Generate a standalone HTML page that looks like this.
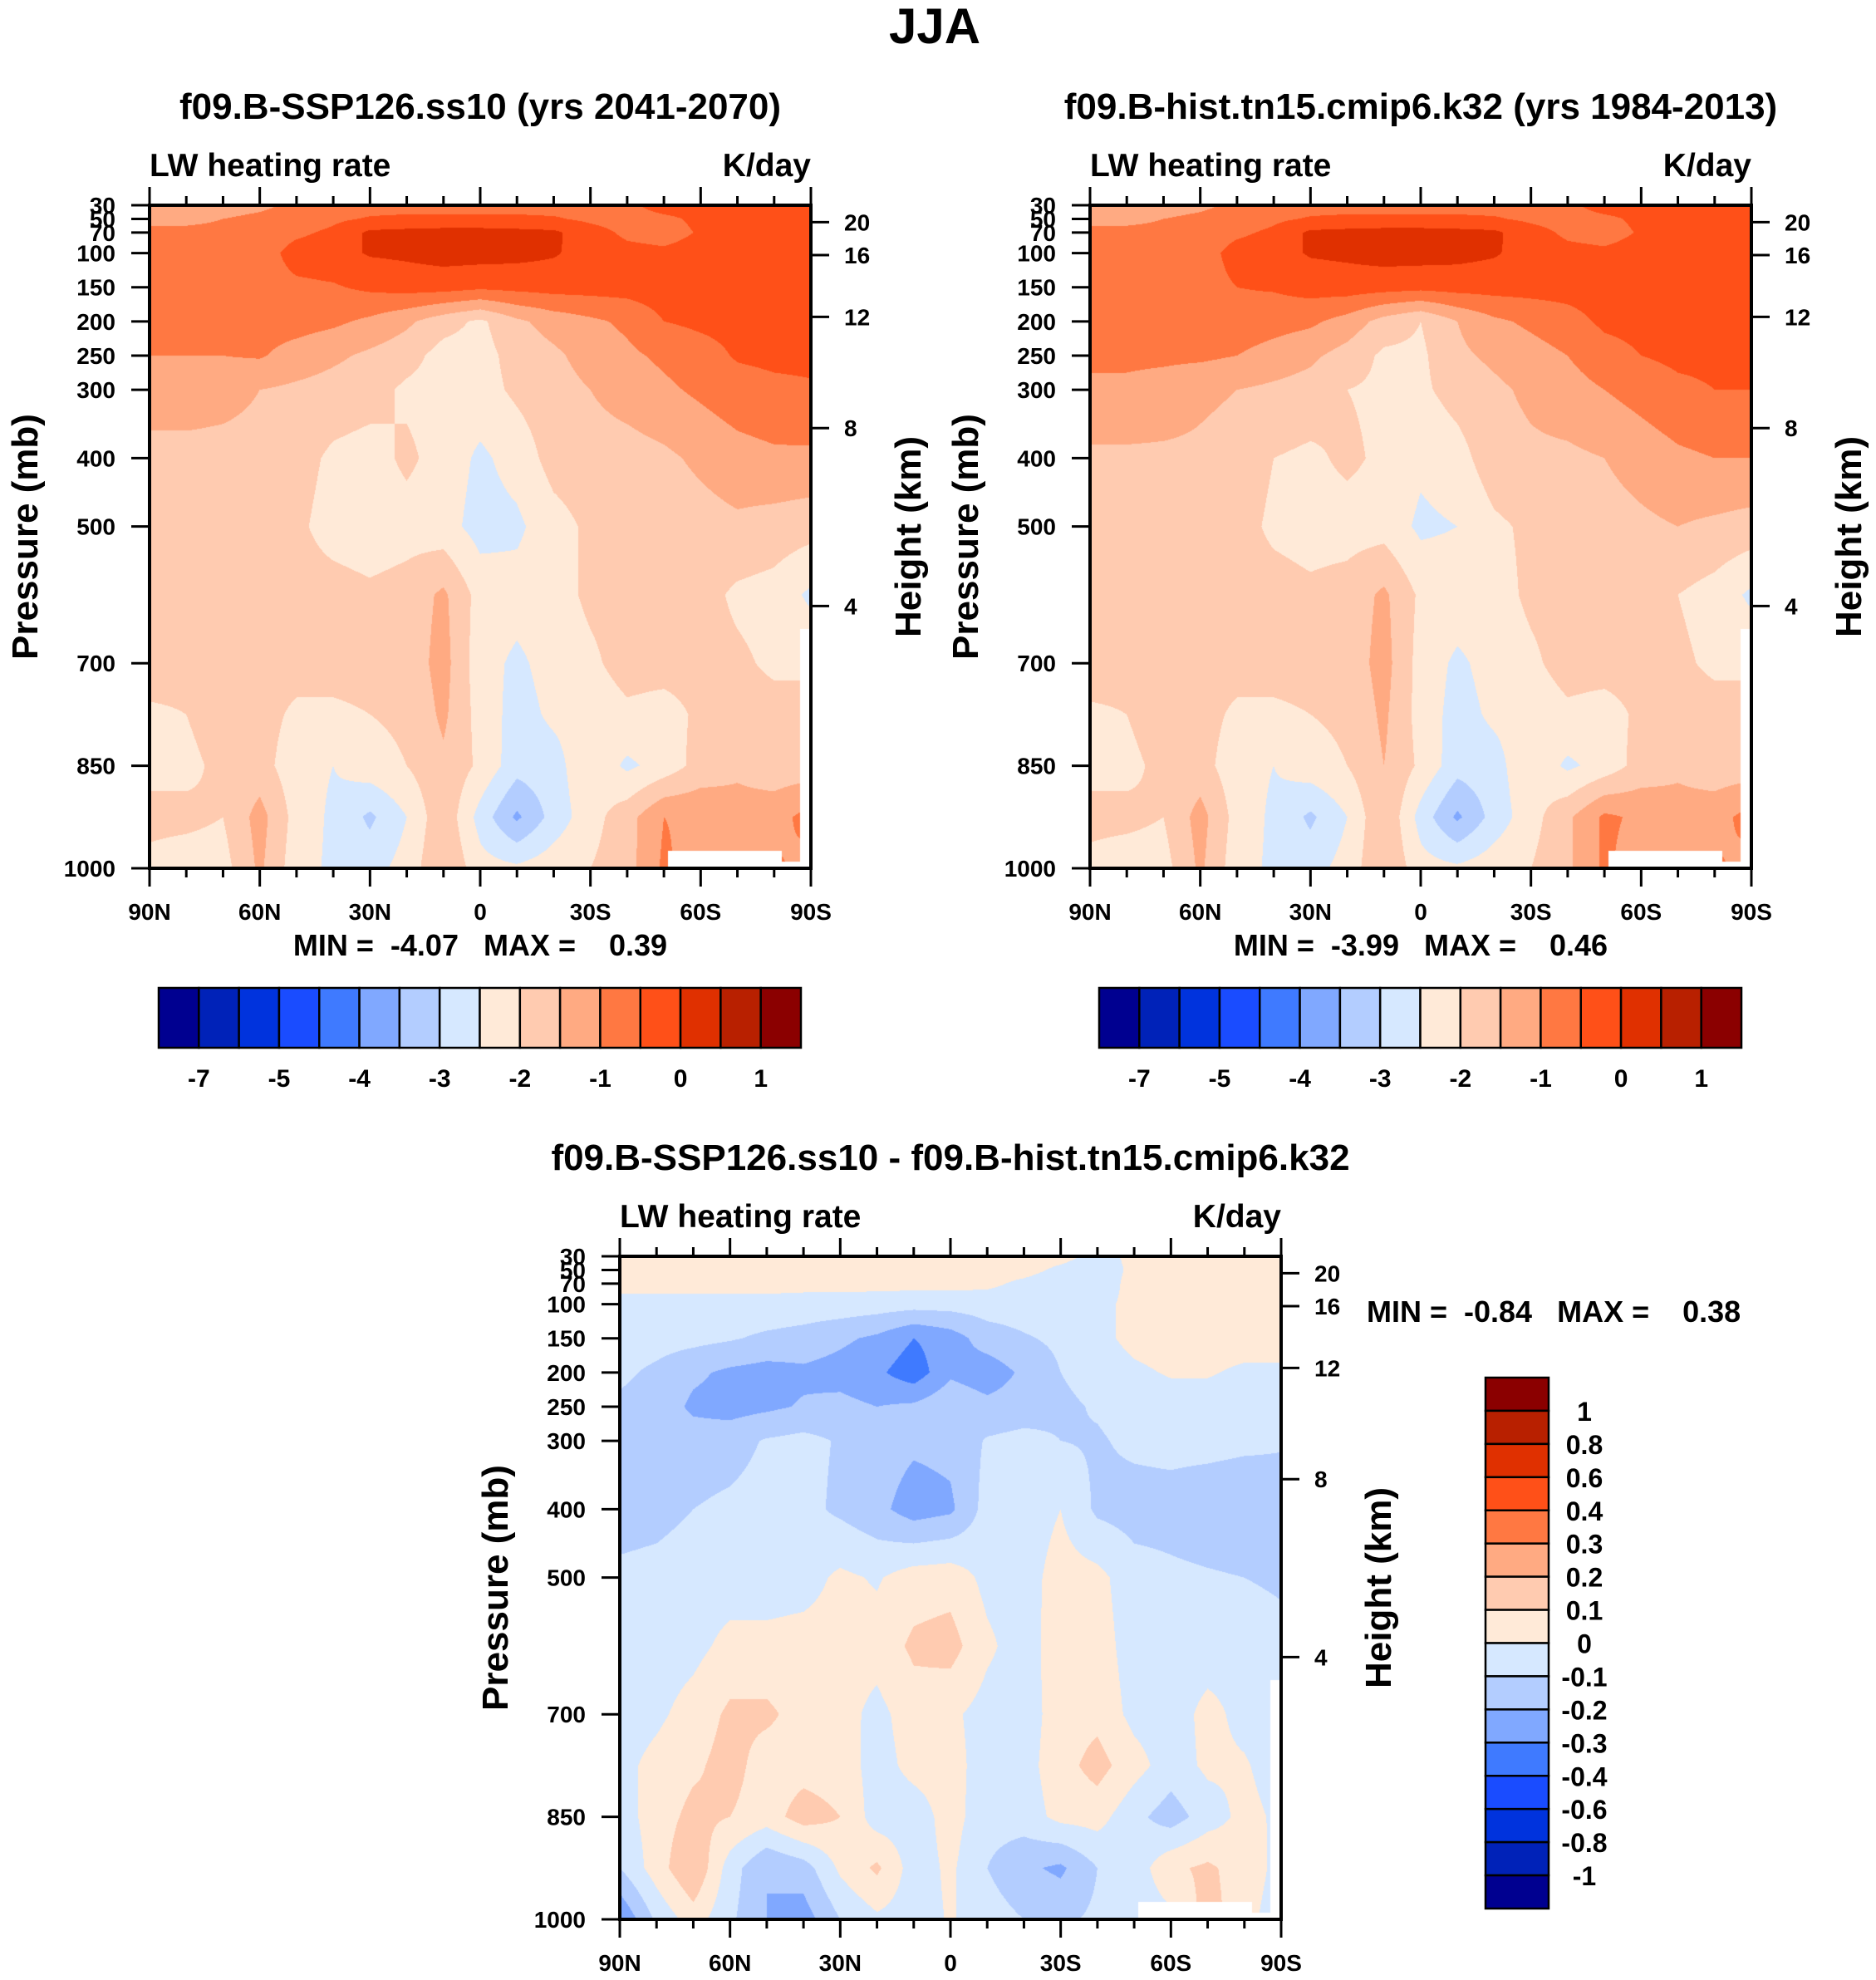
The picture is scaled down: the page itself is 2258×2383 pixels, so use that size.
<!DOCTYPE html>
<html><head><meta charset="utf-8">
<style>
html,body{margin:0;padding:0;background:#fff;}
#wrap{position:relative;width:2258px;height:2383px;overflow:hidden;background:#fff;}
canvas{position:absolute;}
svg{position:absolute;left:0;top:0;}
text{font-family:"Liberation Sans",sans-serif;font-weight:bold;fill:#000;}
.nar{font-family:"Liberation Sans Narrow","Liberation Sans",sans-serif;}
.pre{white-space:pre;}
</style></head>
<body>
<div id="wrap">
<canvas id="c1" style="left:180px;top:247px" width="796" height="798"></canvas>
<canvas id="c2" style="left:1312px;top:247px" width="796" height="798"></canvas>
<canvas id="c3" style="left:746px;top:1512px" width="796" height="798"></canvas>
<svg id="ov" width="2258" height="2383"></svg>
</div>
<script>
const lats = [90,80,70,60,50,40,30,20,10,0,-10,-20,-30,-40,-50,-60,-70,-80,-90];
const pres = [30,50,70,100,150,200,250,300,400,500,600,700,775,850,925,1000];
const colors = ['#000090','#0022b8','#0033dd','#1a4cff','#3f7aff','#80a8ff','#b3cdff','#d6e8ff','#ffead8','#ffcbb0','#ffaa82','#ff7842','#ff5018','#e03000','#b82000','#8b0000'];
const levels1 = [-7,-6,-5,-4.5,-4,-3.5,-3,-2.5,-2,-1.5,-1,-0.5,0,0.5,1];
const cbLabels1 = ['-7','-5','-4','-3','-2','-1','0','1'];
const levels3 = [-1,-0.8,-0.6,-0.4,-0.3,-0.2,-0.1,0,0.1,0.2,0.3,0.4,0.6,0.8,1];
const cbLabels3 = ['1','0.8','0.6','0.4','0.3','0.2','0.1','0','-0.1','-0.2','-0.3','-0.4','-0.6','-0.8','-1'];
const latLabels = ['90N','60N','30N','0','30S','60S','90S'];
const pTicks = [30,50,70,100,150,200,250,300,400,500,700,850,1000];
const zTicks = [4,8,12,16,20];

const field1 = [
[-1.2,-1.2,-1.2,-1.1,-0.9,-0.8,-0.7,-0.7,-0.7,-0.7,-0.7,-0.7,-0.6,-0.6,-0.3,-0.3,-0.3,-0.3,-0.3],
[-1.1,-1.1,-1.0,-0.9,-0.8,-0.6,-0.45,-0.4,-0.4,-0.4,-0.4,-0.45,-0.6,-0.7,-0.6,-0.4,-0.3,-0.3,-0.3],
[-0.9,-0.9,-0.9,-0.8,-0.6,-0.4,0.1,0.15,0.2,0.2,0.15,0.1,-0.3,-0.6,-0.7,-0.45,-0.35,-0.3,-0.3],
[-0.8,-0.8,-0.8,-0.75,-0.3,-0.2,0.05,0.1,0.2,0.2,0.15,0.05,-0.2,-0.35,-0.4,-0.3,-0.3,-0.3,-0.3],
[-0.8,-0.8,-0.75,-0.7,-0.6,-0.55,-0.4,-0.3,-0.3,-0.4,-0.35,-0.3,-0.3,-0.3,-0.25,-0.25,-0.25,-0.25,-0.25],
[-0.8,-0.8,-0.8,-0.8,-0.8,-0.9,-1.1,-1.4,-1.8,-2.1,-1.6,-1.3,-1.1,-0.9,-0.5,-0.4,-0.35,-0.35,-0.3],
[-1.0,-1.0,-1.0,-0.95,-1.2,-1.4,-1.6,-1.8,-2.2,-2.2,-1.8,-1.6,-1.3,-1.1,-0.9,-0.7,-0.45,-0.4,-0.4],
[-1.2,-1.2,-1.3,-1.5,-1.6,-1.7,-1.8,-2.1,-2.2,-2.2,-1.9,-1.7,-1.5,-1.3,-1.1,-0.9,-0.7,-0.6,-0.55],
[-1.7,-1.7,-1.7,-1.7,-1.8,-2.1,-2.2,-1.9,-2.2,-2.6,-2.3,-1.8,-1.7,-1.7,-1.6,-1.4,-1.2,-1.1,-1.1],
[-1.7,-1.7,-1.7,-1.8,-1.9,-2.2,-2.3,-2.2,-2.3,-2.7,-2.6,-2.2,-1.9,-1.8,-1.8,-1.7,-1.6,-1.7,-1.8],
[-1.7,-1.7,-1.7,-1.8,-1.8,-1.8,-1.9,-1.8,-1.4,-2.2,-2.3,-2.2,-1.9,-1.8,-1.8,-1.8,-2.1,-2.2,-2.6],
[-1.7,-1.8,-1.8,-1.8,-1.8,-1.8,-1.8,-1.8,-1.3,-2.3,-2.6,-2.3,-2.1,-1.8,-1.8,-1.8,-1.9,-2.1,-2.1],
[-2.1,-2.0,-1.8,-1.8,-2.1,-2.1,-2.0,-1.9,-1.4,-2.2,-2.7,-2.4,-2.3,-2.1,-2.2,-1.9,-1.8,-1.8,-1.8],
[-2.1,-2.1,-1.9,-1.8,-2.3,-2.5,-2.2,-2.0,-1.6,-2.1,-2.8,-2.7,-2.1,-2.6,-2.3,-1.8,-1.6,-1.8,-1.8],
[-1.9,-1.9,-2.0,-1.3,-2.2,-2.6,-3.1,-2.5,-1.6,-2.7,-3.6,-2.8,-2.2,-1.7,-1.0,-1.1,-1.3,-1.2,-0.8],
[-2.1,-2.2,-2.2,-1.4,-2.3,-2.6,-2.7,-2.3,-1.5,-2.3,-2.4,-2.2,-2.0,-1.7,-0.9,-1.3,-1.6,-0.9,-1.2]];

const field2 = [
[-1.2,-1.2,-1.2,-1.1,-0.9,-0.8,-0.7,-0.7,-0.7,-0.7,-0.7,-0.7,-0.6,-0.6,-0.3,-0.3,-0.3,-0.3,-0.3],
[-1.1,-1.1,-1.0,-0.9,-0.8,-0.6,-0.45,-0.4,-0.4,-0.4,-0.4,-0.45,-0.6,-0.7,-0.6,-0.4,-0.3,-0.3,-0.3],
[-0.9,-0.9,-0.9,-0.8,-0.6,-0.4,0.1,0.15,0.2,0.2,0.15,0.1,-0.3,-0.6,-0.7,-0.45,-0.35,-0.3,-0.3],
[-0.8,-0.8,-0.8,-0.75,-0.3,-0.2,0.05,0.1,0.2,0.2,0.15,0.05,-0.2,-0.35,-0.4,-0.3,-0.3,-0.3,-0.3],
[-0.8,-0.8,-0.75,-0.7,-0.5,-0.45,-0.3,-0.25,-0.3,-0.35,-0.3,-0.3,-0.3,-0.3,-0.25,-0.25,-0.25,-0.25,-0.25],
[-0.8,-0.8,-0.8,-0.8,-0.7,-0.8,-0.9,-1.2,-1.7,-2.0,-1.5,-1.1,-0.9,-0.7,-0.4,-0.35,-0.3,-0.3,-0.3],
[-0.9,-0.9,-0.9,-0.9,-1.0,-1.2,-1.4,-1.7,-2.1,-2.1,-1.6,-1.4,-1.2,-1.0,-0.7,-0.5,-0.4,-0.4,-0.4],
[-1.1,-1.1,-1.2,-1.4,-1.5,-1.6,-1.7,-2.0,-2.1,-2.1,-1.8,-1.6,-1.4,-1.2,-1.0,-0.8,-0.6,-0.5,-0.5],
[-1.6,-1.6,-1.6,-1.6,-1.7,-2.0,-2.1,-1.9,-2.1,-2.4,-2.2,-1.7,-1.6,-1.6,-1.5,-1.3,-1.1,-1.0,-1.0],
[-1.7,-1.7,-1.7,-1.7,-1.8,-2.1,-2.2,-2.2,-2.2,-2.6,-2.5,-2.1,-1.9,-1.8,-1.7,-1.6,-1.5,-1.6,-1.7],
[-1.7,-1.7,-1.7,-1.8,-1.8,-1.8,-1.9,-1.8,-1.4,-2.1,-2.2,-2.2,-1.9,-1.8,-1.8,-1.8,-2.0,-2.2,-2.6],
[-1.7,-1.8,-1.8,-1.8,-1.8,-1.8,-1.8,-1.8,-1.3,-2.2,-2.6,-2.3,-2.1,-1.8,-1.8,-1.8,-1.9,-2.1,-2.1],
[-2.1,-2.0,-1.8,-1.8,-2.1,-2.1,-2.0,-1.9,-1.4,-2.2,-2.7,-2.4,-2.3,-2.1,-2.2,-1.9,-1.8,-1.8,-1.8],
[-2.1,-2.1,-1.9,-1.8,-2.3,-2.5,-2.2,-2.0,-1.5,-2.1,-2.8,-2.7,-2.1,-2.6,-2.3,-1.8,-1.6,-1.8,-1.8],
[-1.9,-1.9,-2.0,-1.3,-2.2,-2.6,-3.1,-2.5,-1.5,-2.7,-3.6,-2.8,-2.2,-1.6,-0.9,-1.1,-1.3,-1.2,-0.8],
[-2.1,-2.2,-2.2,-1.4,-2.3,-2.6,-2.7,-2.3,-1.5,-2.3,-2.4,-2.2,-2.0,-1.6,-0.9,-1.3,-1.6,-0.9,-1.2]];

const field3 = [
[0.05,0.05,0.05,0.05,0.05,0.05,0.05,0.05,0.05,0.05,0.05,0.05,0.03,-0.03,0.02,0.05,0.05,0.05,0.05],
[0.04,0.04,0.04,0.04,0.04,0.04,0.04,0.04,0.04,0.04,0.04,0.03,-0.02,-0.05,0.02,0.05,0.05,0.05,0.05],
[0.03,0.03,0.03,0.03,0.03,0.03,0.03,0.03,0.03,0.03,0.02,-0.02,-0.05,-0.05,0.03,0.05,0.05,0.05,0.05],
[-0.03,-0.03,-0.03,-0.03,-0.03,-0.04,-0.04,-0.05,-0.06,-0.06,-0.05,-0.05,-0.04,-0.02,0.02,0.05,0.05,0.05,0.05],
[-0.05,-0.06,-0.07,-0.09,-0.12,-0.14,-0.18,-0.22,-0.3,-0.25,-0.15,-0.11,-0.08,-0.03,0.03,0.05,0.05,0.05,0.05],
[-0.08,-0.12,-0.18,-0.22,-0.24,-0.22,-0.24,-0.28,-0.36,-0.22,-0.26,-0.18,-0.1,-0.06,-0.02,0.01,0.01,-0.02,-0.02],
[-0.12,-0.14,-0.22,-0.24,-0.22,-0.19,-0.17,-0.2,-0.18,-0.12,-0.17,-0.15,-0.12,-0.09,-0.06,-0.05,-0.05,-0.06,-0.06],
[-0.12,-0.13,-0.15,-0.14,-0.09,-0.07,-0.11,-0.15,-0.18,-0.17,-0.09,-0.07,-0.1,-0.11,-0.08,-0.07,-0.07,-0.08,-0.09],
[-0.14,-0.13,-0.1,-0.08,-0.06,-0.07,-0.12,-0.17,-0.25,-0.22,-0.06,-0.05,0.0,-0.12,-0.14,-0.14,-0.16,-0.17,-0.15],
[-0.08,-0.07,-0.05,-0.05,-0.05,-0.04,0.02,-0.01,0.05,0.06,-0.03,-0.04,0.04,0.03,-0.06,-0.08,-0.09,-0.1,-0.12],
[-0.06,-0.05,-0.03,0.03,0.03,0.04,0.04,0.04,0.12,0.14,0.02,-0.05,0.06,0.05,-0.05,-0.05,-0.05,-0.03,-0.06],
[-0.05,-0.02,0.04,0.12,0.12,0.06,0.04,-0.03,0.05,0.02,-0.04,-0.05,0.05,0.07,-0.03,-0.05,0.03,-0.03,-0.05],
[-0.03,0.03,0.08,0.14,0.05,0.06,0.05,-0.04,0.03,0.04,-0.05,-0.04,0.06,0.14,0.04,-0.05,0.02,0.01,-0.05],
[-0.05,0.05,0.13,0.1,0.05,0.15,0.1,-0.05,-0.05,0.04,-0.06,-0.05,0.03,0.04,-0.07,-0.15,-0.05,0.03,-0.02],
[-0.1,0.05,0.2,-0.05,-0.2,-0.15,0.02,0.12,-0.05,0.02,-0.1,-0.18,-0.22,-0.1,-0.06,0.08,0.12,0.05,-0.03],
[-0.3,-0.08,0.05,-0.08,-0.2,-0.25,-0.1,-0.02,-0.05,0.01,-0.05,-0.1,-0.12,-0.08,-0.06,-0.03,0.15,0.03,-0.05]];

function hexRgb(h){return [parseInt(h.substr(1,2),16),parseInt(h.substr(3,2),16),parseInt(h.substr(5,2),16)];}
const rgb = colors.map(hexRgb);
function pToY(p,h){return (p-30)/970*h;}
function latToX(l,w){return (90-l)/180*w;}
function masked(lat,p){
  if(lat<-87 && p>650) return true;
  if(lat<-51 && lat>-82 && p>975) return true;
  if(lat<=-82 && p>990) return true;
  return false;
}
function drawField(id,field,levels){
  const cv=document.getElementById(id), ctx=cv.getContext('2d');
  const W=cv.width,H=cv.height, img=ctx.createImageData(W,H), d=img.data;
  for(let y=0;y<H;y++){
    const p=30+(y+0.5)/H*970;
    let j=0; while(j<pres.length-2 && p>pres[j+1]) j++;
    const ty=(p-pres[j])/(pres[j+1]-pres[j]);
    for(let x=0;x<W;x++){
      const lat=90-(x+0.5)/W*180;
      const fi=(90-lat)/10; let i=Math.min(17,Math.floor(fi)); const tx=fi-i;
      const v=(field[j][i]*(1-tx)+field[j][i+1]*tx)*(1-ty)+(field[j+1][i]*(1-tx)+field[j+1][i+1]*tx)*ty;
      let k=0; while(k<levels.length && v>=levels[k]) k++;
      let c=masked(lat,p)?[255,255,255]:rgb[k];
      const o=(y*W+x)*4; d[o]=c[0];d[o+1]=c[1];d[o+2]=c[2];d[o+3]=255;
    }
  }
  ctx.putImageData(img,0,0);
}
drawField('c1',field1,levels1);
drawField('c2',field2,levels1);
drawField('c3',field3,levels3);

const NS='http://www.w3.org/2000/svg', svg=document.getElementById('ov');
function el(tag,attrs,txt){const e=document.createElementNS(NS,tag);for(const k in attrs)e.setAttribute(k,attrs[k]);if(txt!==undefined)e.textContent=txt;svg.appendChild(e);return e;}
function zToP(z){const m=z*1000; if(m<=11000) return 1013.25*Math.pow(1-2.25577e-5*m,5.25588); return 226.32*Math.exp(-(m-11000)/6341.6);}

function panel(X,Y,W,H,opt){
  const nar=opt.narrow?'nar':'';
  let t;
  t=el('text',{x:X+W/2,y:Y-104,'font-size':44,'text-anchor':'middle','class':nar},opt.title);
   
  t=el('text',{x:X,y:Y-35,'font-size':39,'class':nar},'LW heating rate');
   
  t=el('text',{x:X+W,y:Y-35,'font-size':39,'text-anchor':'end','class':nar},'K/day');
   
  t=el('rect',{x:X,y:Y,width:W,height:H,fill:'none',stroke:'#000','stroke-width':4});
   
  for(let l=90;l>=-90;l-=10){
    const x=X+latToX(l,W), major=(l%30===0);
    const len=major?22:11;
    el('line',{x1:x,y1:Y,x2:x,y2:Y-len,stroke:'#000','stroke-width':3});
    el('line',{x1:x,y1:Y+H,x2:x,y2:Y+H+len,stroke:'#000','stroke-width':3});
  }
  latLabels.forEach((s,i)=>{
    const x=X+i*W/6;
    const e=el('text',{x:x,y:Y+H+62,'font-size':28,'text-anchor':'middle','class':nar},s);
     
  });
  pTicks.forEach(p=>{
    const y=Y+pToY(p,H);
    el('line',{x1:X,y1:y,x2:X-22,y2:y,stroke:'#000','stroke-width':3});
    const e=el('text',{x:X-41,y:y+10,'font-size':28,'text-anchor':'end','class':nar},String(p));
     
  });
  zTicks.forEach(z=>{
    const y=Y+pToY(zToP(z),H);
    el('line',{x1:X+W,y1:y,x2:X+W+22,y2:y,stroke:'#000','stroke-width':3});
    const e=el('text',{x:X+W+40,y:y+10,'font-size':28,'class':nar},String(z));
     
  });
  t=el('text',{x:0,y:0,'font-size':44,'text-anchor':'middle',transform:`translate(${X-135},${Y+H/2}) rotate(-90)`},'Pressure (mb)');
   
  t=el('text',{x:0,y:0,'font-size':44,'text-anchor':'middle',transform:`translate(${X+W+132},${Y+H/2}) rotate(-90)`},'Height (km)');
   
}

panel(180,247,796,798,{title:'f09.B-SSP126.ss10 (yrs 2041-2070)',prefix:'ssp126'});
panel(1312,247,796,798,{title:'f09.B-hist.tn15.cmip6.k32 (yrs 1984-2013)',prefix:'hist'});
panel(746,1512,796,798,{title:'f09.B-SSP126.ss10 - f09.B-hist.tn15.cmip6.k32',prefix:'diff',narrow:true});

let t;
t=el('text',{x:1125,y:52,'font-size':60,'text-anchor':'middle'},'JJA');
 
t=el('text',{x:578,y:1150,'font-size':36,'text-anchor':'middle','class':'pre'},'MIN =  -4.07   MAX =    0.39');
 
t=el('text',{x:1710,y:1150,'font-size':36,'text-anchor':'middle','class':'pre'},'MIN =  -3.99   MAX =    0.46');
 
t=el('text',{x:1645,y:1591,'font-size':36,'class':'nar pre'},'MIN =  -0.84   MAX =    0.38');
 

function hbar(X,Y,W,H,prefix){
  const bw=W/16;
  colors.forEach((c,i)=>{
    const r=el('rect',{x:X+i*bw,y:Y,width:bw,height:H,fill:c,stroke:'#000','stroke-width':2.5});
     
  });
  cbLabels1.forEach((s,i)=>{
    const e=el('text',{x:X+(1+2*i)*bw,y:Y+H+47,'font-size':30,'text-anchor':'middle'},s);
     
  });
}
hbar(191,1189,773,72,'ssp126');
hbar(1323,1189,773,72,'hist');
(function(){
  const X=1788,Y=1658,W=76,H=639,bh=H/16;
  for(let i=0;i<16;i++){
    const r=el('rect',{x:X,y:Y+i*bh,width:W,height:bh,fill:colors[15-i],stroke:'#000','stroke-width':2.5});
     
  }
  cbLabels3.forEach((s,i)=>{
    const e=el('text',{x:1907,y:Y+(i+1)*bh+12,'font-size':32,'text-anchor':'middle','class':'nar'},s);
     
  });
})();
</script>
</body></html>
